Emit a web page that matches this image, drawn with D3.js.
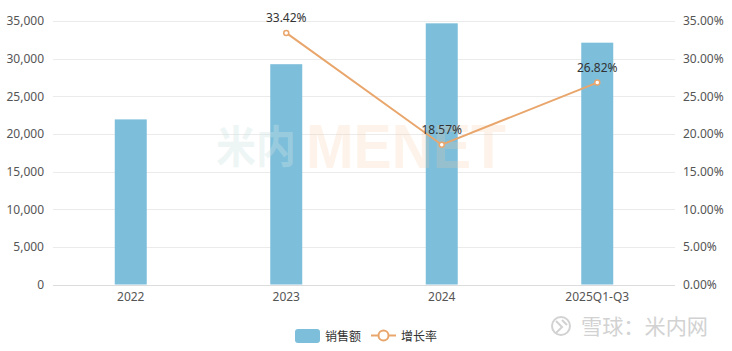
<!DOCTYPE html>
<html lang="zh">
<head>
    <meta charset="UTF-8">
    <title>销售额与增长率</title>
    <style>
        body { margin: 0; background: #fff; font-family: "Noto Sans CJK SC", "Noto Sans", sans-serif; }
        #chart svg { display: block; }
    </style>
</head>
<body>
    <div id="chart"></div>
    <script src="https://d3js.org/d3.v7.min.js"></script>
    <script>
        // data
        const categories = ["2022", "2023", "2024", "2025Q1-Q3"];
        const sales = [21930, 29260, 34690, 32120];
        const growth = [null, 33.42, 18.57, 26.82];
        const salesTicks = [0, 5000, 10000, 15000, 20000, 25000, 30000, 35000];
        const growthTicks = [0, 5, 10, 15, 20, 25, 30, 35];

        const W = 732, H = 351;
        const plot = { left: 53, right: 675, top: 21, bottom: 284.5 };

        const svg = d3.select("#chart").append("svg")
            .attr("width", W).attr("height", H);

        const x = d3.scaleBand().domain(categories).range([plot.left, plot.right]);
        const yL = d3.scaleLinear().domain([0, 35000]).range([plot.bottom, plot.top]);
        const yR = d3.scaleLinear().domain([0, 35]).range([plot.bottom, plot.top]);

        // grid lines
        svg.append("g")
            .selectAll("line")
            .data(salesTicks)
            .join("line")
            .attr("x1", plot.left).attr("x2", plot.right)
            .attr("y1", d => Math.round(yL(d)) + 0.5).attr("y2", d => Math.round(yL(d)) + 0.5)
            .attr("stroke", d => d === 0 ? "#dcdcdc" : "#ebebeb");

        // left axis
        const leftAxis = svg.append("g")
            .attr("transform", `translate(${plot.left},0)`)
            .call(d3.axisLeft(yL).tickValues(salesTicks).tickFormat(d3.format(",")).tickSize(0).tickPadding(9));
        leftAxis.select(".domain").remove();

        // right axis
        const rightAxis = svg.append("g")
            .attr("transform", `translate(${plot.right},0)`)
            .call(d3.axisRight(yR).tickValues(growthTicks).tickFormat(d => d.toFixed(2) + "%").tickSize(0).tickPadding(8));
        rightAxis.select(".domain").remove();

        // bottom axis
        const bottomAxis = svg.append("g")
            .attr("transform", `translate(0,${plot.bottom})`)
            .call(d3.axisBottom(x).tickSize(0).tickPadding(8));
        bottomAxis.select(".domain").remove();

        svg.selectAll(".tick text")
            .attr("fill", "#555")
            .attr("font-size", 12)
            .attr("font-family", "Noto Sans, sans-serif");

        // bars
        const barW = 32;
        svg.append("g")
            .selectAll("rect")
            .data(categories)
            .join("rect")
            .attr("x", d => x(d) + x.bandwidth() / 2 - barW / 2)
            .attr("width", barW)
            .attr("y", (d, i) => yL(sales[i]))
            .attr("height", (d, i) => yL(0) - yL(sales[i]))
            .attr("fill", "#7dbedb");

        // watermark, faint, over the bars
        svg.append("text")
            .attr("x", 216).attr("y", 163)
            .attr("font-size", 44).attr("font-weight", "bold")
            .attr("textLength", 80).attr("lengthAdjust", "spacingAndGlyphs")
            .attr("font-family", "Noto Sans CJK SC")
            .attr("fill", "#cfe4e4").attr("fill-opacity", 0.35)
            .text("米内");
        svg.append("text")
            .attr("x", 306).attr("y", 168)
            .attr("font-size", 63).attr("font-weight", "bold")
            .attr("textLength", 200).attr("lengthAdjust", "spacingAndGlyphs")
            .attr("font-family", "Liberation Sans, Arial, sans-serif")
            .attr("fill", "#f8c8a0").attr("fill-opacity", 0.22)
            .text("MENET");

        // growth line
        const pts = categories.map((c, i) => ({ c, v: growth[i] })).filter(d => d.v !== null);
        const line = d3.line()
            .x(d => x(d.c) + x.bandwidth() / 2)
            .y(d => yR(d.v));
        svg.append("path")
            .datum(pts)
            .attr("d", line)
            .attr("fill", "none")
            .attr("stroke", "#e9a66c")
            .attr("stroke-width", 2);

        svg.append("g")
            .selectAll("circle")
            .data(pts)
            .join("circle")
            .attr("cx", d => x(d.c) + x.bandwidth() / 2)
            .attr("cy", d => yR(d.v))
            .attr("r", 2.5)
            .attr("fill", "#fff")
            .attr("stroke", "#e9a66c")
            .attr("stroke-width", 1.5);

        svg.append("g")
            .selectAll("text")
            .data(pts)
            .join("text")
            .attr("x", d => x(d.c) + x.bandwidth() / 2)
            .attr("y", d => yR(d.v) - 11)
            .attr("text-anchor", "middle")
            .attr("font-size", 12)
            .attr("font-family", "Noto Sans, sans-serif")
            .attr("fill", "#333")
            .text(d => d.v.toFixed(2) + "%");

        // legend
        const legend = svg.append("g");
        legend.append("rect")
            .attr("x", 295).attr("y", 329).attr("width", 25).attr("height", 14)
            .attr("rx", 3).attr("fill", "#7dbedb");
        legend.append("text")
            .attr("x", 325).attr("y", 340.5)
            .attr("font-size", 12).attr("fill", "#333")
            .text("销售额");
        legend.append("line")
            .attr("x1", 371).attr("x2", 396).attr("y1", 335.5).attr("y2", 335.5)
            .attr("stroke", "#e9a66c").attr("stroke-width", 2);
        legend.append("circle")
            .attr("cx", 383.5).attr("cy", 335.5).attr("r", 5)
            .attr("fill", "#fff").attr("stroke", "#e9a66c").attr("stroke-width", 2);
        legend.append("text")
            .attr("x", 401).attr("y", 340.5)
            .attr("font-size", 12).attr("fill", "#333")
            .text("增长率");

        // source watermark bottom right
        const src = svg.append("g").attr("fill", "none").attr("stroke", "#d2d2d2");
        src.append("circle").attr("cx", 561).attr("cy", 326).attr("r", 9).attr("stroke-width", 2);
        src.append("path").attr("d", "M556,321 L562,327 L556,333 M562,320 L567,325").attr("stroke-width", 2);
        svg.append("text")
            .attr("x", 581).attr("y", 334)
            .attr("font-size", 21).attr("fill", "#d2d2d2")
            .attr("textLength", 127).attr("lengthAdjust", "spacingAndGlyphs")
            .text("雪球：米内网");
    </script>
</body>
</html>
